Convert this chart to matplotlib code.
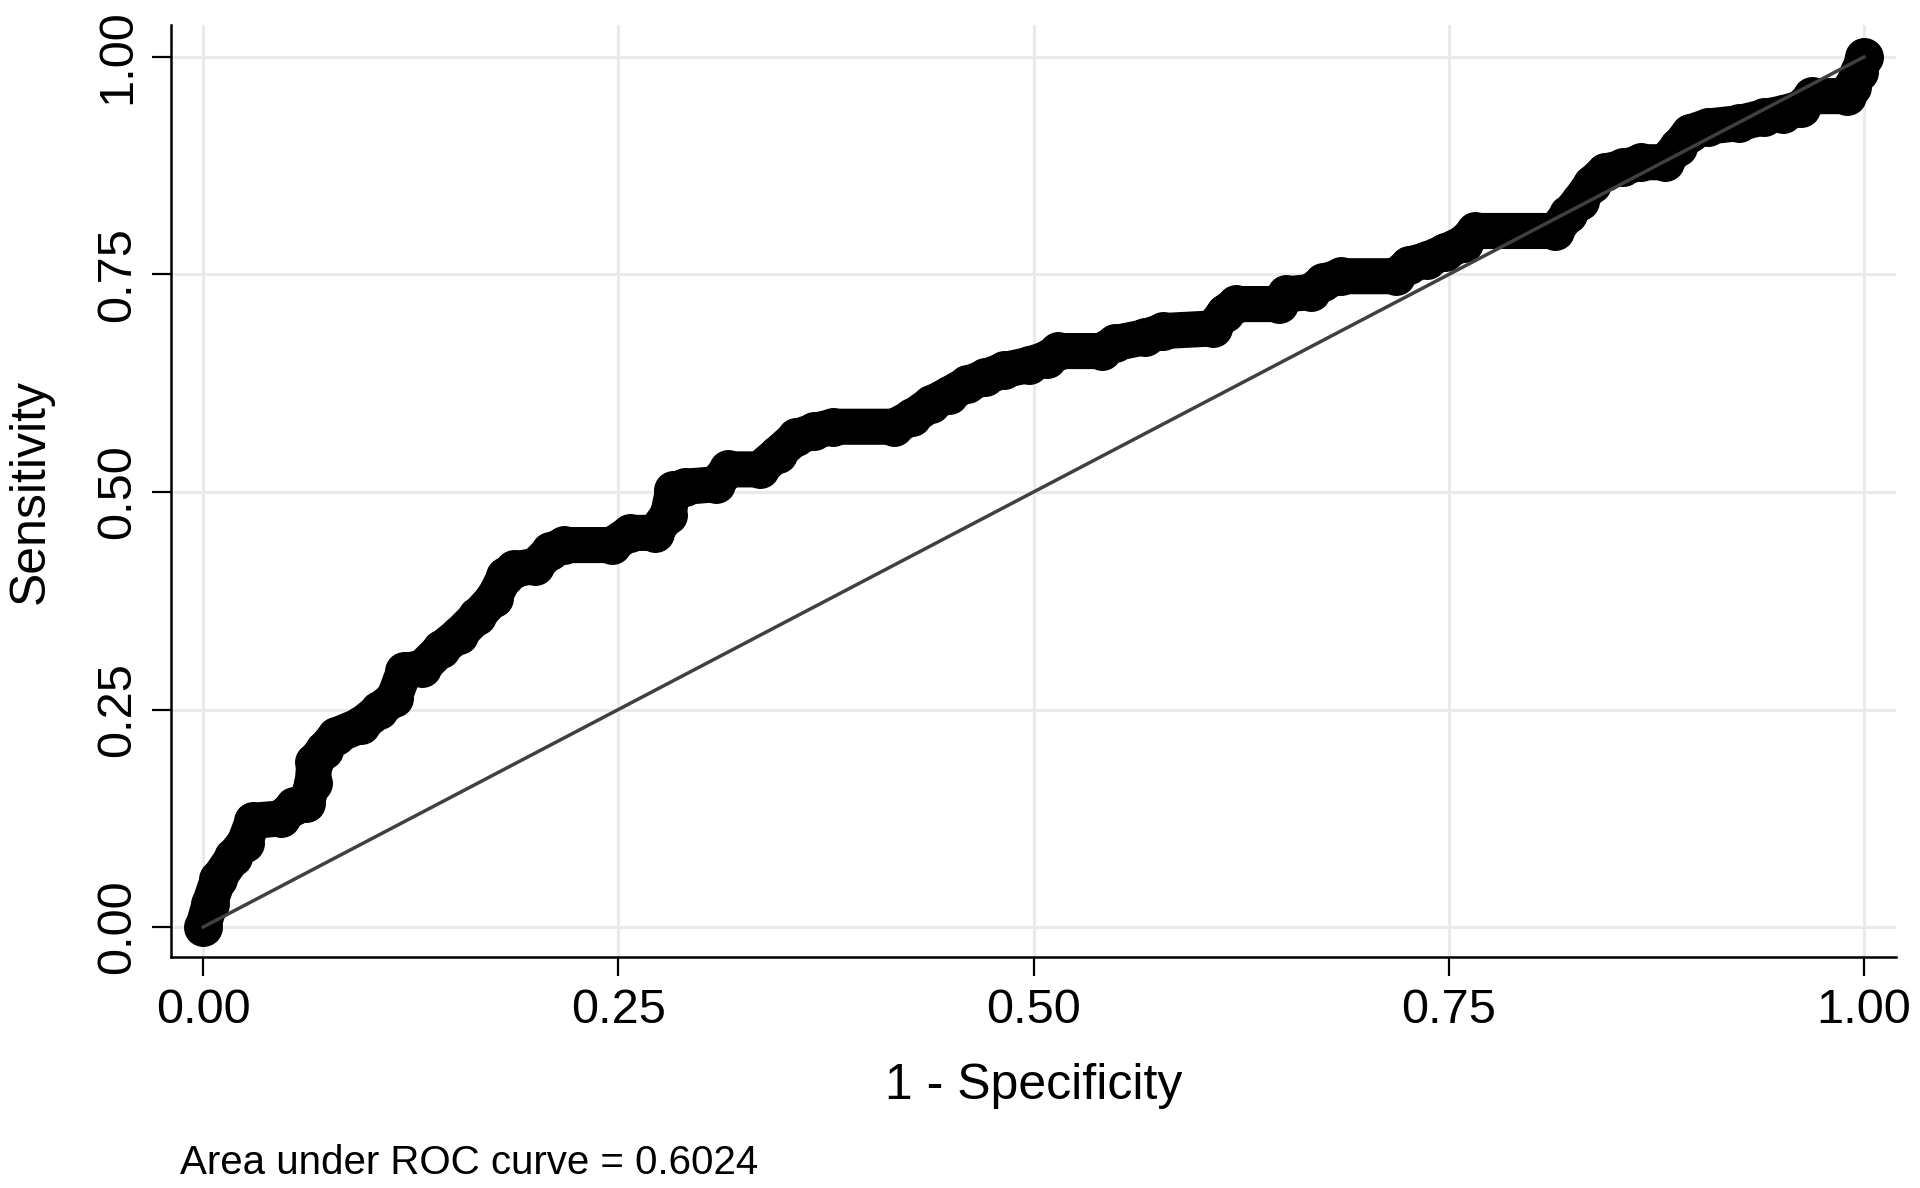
import matplotlib
matplotlib.use("Agg")
import matplotlib.pyplot as plt

plt.rcParams['font.family'] = ['Liberation Sans', 'DejaVu Sans']

# ROC curve points
fpr = [0.000, 0.004, 0.009, 0.018, 0.025, 0.030, 0.047, 0.055, 0.062, 0.066,
       0.067, 0.073, 0.080, 0.095, 0.106, 0.115, 0.121, 0.132, 0.143, 0.154,
       0.165, 0.175, 0.182, 0.187, 0.200, 0.209, 0.217, 0.246, 0.257, 0.272,
       0.280, 0.283, 0.290, 0.309, 0.316, 0.335, 0.346, 0.357, 0.368, 0.379,
       0.416, 0.427, 0.438, 0.449, 0.460, 0.471, 0.482, 0.497, 0.508, 0.515,
       0.541, 0.549, 0.567, 0.578, 0.608, 0.615, 0.622, 0.648, 0.652, 0.667,
       0.674, 0.685, 0.718, 0.726, 0.737, 0.748, 0.759, 0.766, 0.814, 0.822,
       0.829, 0.836, 0.844, 0.855, 0.866, 0.880, 0.888, 0.895, 0.906, 0.925,
       0.940, 0.951, 0.962, 0.969, 0.990, 0.993, 0.997, 1.000]
tpr = [0.000, 0.027, 0.055, 0.080, 0.097, 0.122, 0.125, 0.139, 0.142, 0.165,
       0.190, 0.204, 0.220, 0.232, 0.249, 0.263, 0.294, 0.298, 0.319, 0.336,
       0.357, 0.378, 0.404, 0.411, 0.415, 0.432, 0.439, 0.439, 0.453, 0.453,
       0.474, 0.502, 0.506, 0.509, 0.526, 0.526, 0.544, 0.563, 0.570, 0.575,
       0.575, 0.586, 0.601, 0.612, 0.624, 0.632, 0.640, 0.646, 0.653, 0.662,
       0.662, 0.671, 0.678, 0.685, 0.688, 0.706, 0.716, 0.716, 0.727, 0.730,
       0.741, 0.748, 0.748, 0.761, 0.767, 0.776, 0.786, 0.800, 0.800, 0.819,
       0.835, 0.854, 0.868, 0.873, 0.879, 0.879, 0.896, 0.913, 0.920, 0.924,
       0.931, 0.935, 0.941, 0.955, 0.955, 0.966, 0.983, 1.000]

ticks = [0, 0.25, 0.5, 0.75, 1]
tick_labels = ['0.00', '0.25', '0.50', '0.75', '1.00']
auc_text = 'Area under ROC curve = 0.6024'

fig = plt.figure(figsize=(19.2, 11.88), dpi=100)
ax = fig.add_axes([0.0891, 0.1944, 0.8984, 0.7846])

ax.plot(fpr, tpr, color='black', lw=26, marker='o', ms=27,
        solid_joinstyle='round', solid_capstyle='round', zorder=3)
ax.plot([0, 1], [0, 1], color='#404040', lw=2.5, zorder=4)

ax.set_xlim(-0.0193, 1.0193)
ax.set_ylim(-0.0345, 1.0368)
ax.set_xticks(ticks)
ax.set_xticklabels(tick_labels)
ax.set_yticks(ticks)
ax.set_yticklabels(tick_labels, rotation=90, va='center')

ax.grid(True, color='#eaeaea', lw=2.2, zorder=0)
ax.set_axisbelow(True)
for s in ['top', 'right']:
    ax.spines[s].set_visible(False)
for s in ['left', 'bottom']:
    ax.spines[s].set_linewidth(1.8)
ax.tick_params(length=14, width=1.6, labelsize=35, pad=8)

ax.set_xlabel('1 - Specificity', fontsize=36, labelpad=22)
ax.set_ylabel('Sensitivity', fontsize=36, labelpad=30)

fig.text(180 / 1920, 1 - 1163 / 1188, auc_text, fontsize=29, va='center', ha='left')

fig.savefig('out.png', dpi=100)
